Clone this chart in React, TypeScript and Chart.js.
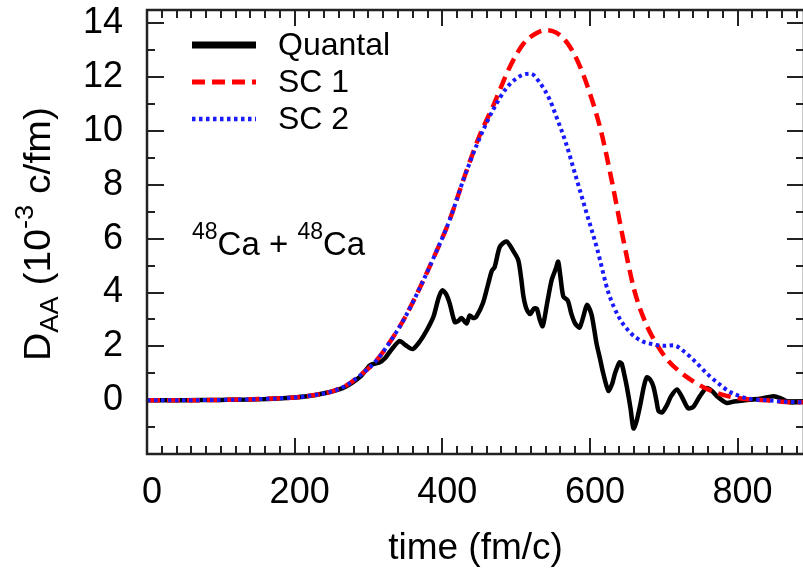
import React, { useEffect, useRef } from 'react';
import { Chart, registerables } from 'chart.js';

Chart.register(...registerables);

// ---------------- data ----------------
const quantalT = [0, 50, 100, 150, 200, 230, 265, 290, 302, 315, 322, 329, 342, 350, 360, 370, 379, 388, 395, 400, 405, 410, 417, 422, 426, 433, 437, 442, 446, 455, 462, 467, 471, 478, 487, 496, 503, 507, 510, 514, 519, 524, 528, 532, 536, 542, 548, 554, 557, 560, 564, 570, 575, 580, 586, 592, 596, 602, 606, 609, 614, 618, 625, 630, 634, 640, 643, 647, 650, 655, 659, 663, 668, 673, 677, 682, 686, 690, 693, 698, 704, 710, 718, 725, 733, 740, 749, 758, 765, 772, 785, 795, 810, 830, 849, 860, 871, 890];
const quantalV = [0, 0, 0.01, 0.03, 0.1, 0.2, 0.45, 0.9, 1.3, 1.4, 1.55, 1.8, 2.2, 2.05, 1.9, 2.2, 2.6, 3.1, 3.8, 4.08, 3.95, 3.6, 2.9, 2.95, 3.05, 2.85, 3.15, 3.05, 3.1, 3.6, 4.3, 4.8, 4.95, 5.7, 5.9, 5.55, 5.2, 4.5, 3.85, 3.4, 3.2, 3.4, 3.4, 3.0, 2.75, 3.6, 4.45, 4.9, 5.15, 4.6, 3.85, 3.7, 3.2, 2.85, 2.7, 3.2, 3.55, 3.2, 2.6, 2.1, 1.5, 1.0, 0.35, 0.6, 1.0, 1.4, 1.36, 0.9, 0.5, -0.3, -1.05, -0.8, -0.2, 0.5, 0.85, 0.75, 0.5, 0.0, -0.4, -0.45, -0.2, 0.15, 0.4, 0.1, -0.3, -0.25, 0.15, 0.45, 0.35, 0.15, -0.1, -0.05, 0.0, 0.05, 0.15, 0.05, -0.08, -0.06];

const sc1T = [0, 50, 100, 150, 200, 225, 250, 270, 290, 310, 330, 350, 370, 390, 410, 430, 450, 470, 490, 510, 525, 540, 555, 570, 585, 600, 615, 630, 645, 660, 675, 690, 705, 720, 740, 760, 780, 800, 820, 840, 860, 890];
const sc1V = [0, 0, 0.01, 0.04, 0.1, 0.18, 0.32, 0.55, 0.95, 1.45, 2.2, 3.1, 4.2, 5.4, 6.7, 8.3, 9.8, 11.0, 12.3, 13.25, 13.6, 13.75, 13.65, 13.25, 12.5, 11.4, 10.0, 8.1, 6.0, 4.1, 2.9, 2.1, 1.5, 1.1, 0.7, 0.4, 0.2, 0.08, 0.02, 0, -0.06, -0.08];

const sc2T = [0, 50, 100, 150, 200, 225, 250, 270, 290, 310, 330, 350, 370, 390, 410, 430, 450, 470, 487, 500, 510, 520, 532, 545, 555, 567, 580, 595, 610, 625, 640, 655, 670, 685, 700, 713, 728, 742, 760, 775, 790, 805, 820, 840, 860, 890];
const sc2V = [0, 0, 0.01, 0.04, 0.1, 0.18, 0.32, 0.55, 0.95, 1.45, 2.2, 3.1, 4.2, 5.4, 6.7, 8.3, 9.7, 10.85, 11.6, 11.95, 12.1, 12.13, 11.8, 11.2, 10.5, 9.6, 8.4, 7.0, 5.6, 4.0, 3.05, 2.5, 2.2, 2.08, 2.02, 2.04, 1.8, 1.45, 0.95, 0.6, 0.3, 0.13, 0.03, 0, -0.05, -0.08];

const seriesLabels = ['Quantal', 'SC 1', 'SC 2'];
const xRange = [0, 890];
const yRange = [-2, 14.5];
const xMajor = 200;
const xMinor = 20;
const yMajor = 2;
const yMinor = 1;

const FONT = '"Liberation Sans", Arial, Helvetica, sans-serif';

const toPoints = (t: number[], v: number[]) => t.map((x, i) => ({ x, y: v[i] }));

type Part = { text: string; size: number; dy: number };

function measureRich(ctx: CanvasRenderingContext2D, parts: Part[]) {
  return parts.map((p) => {
    ctx.font = `${p.size}px ${FONT}`;
    return ctx.measureText(p.text).width;
  });
}

function drawRich(ctx: CanvasRenderingContext2D, parts: Part[], x: number, y: number) {
  const widths = measureRich(ctx, parts);
  let cx = x;
  parts.forEach((p, i) => {
    ctx.font = `${p.size}px ${FONT}`;
    ctx.fillText(p.text, cx, y + p.dy);
    cx += widths[i];
  });
}

const overlayPlugin = {
  id: 'overlayPlugin',
  beforeDatasetsDraw(chart: any) {
    const { ctx, chartArea, scales } = chart;
    const { left, right, top, bottom } = chartArea;
    const xs = scales.x;
    const ys = scales.y;
    ctx.save();
    ctx.strokeStyle = '#222';
    ctx.lineWidth = 2;
    ctx.beginPath();
    for (let v = xRange[0]; v <= xRange[1] + 1e-6; v += xMinor) {
      const px = Math.round(xs.getPixelForValue(v));
      const len = Math.abs(v % xMajor) < 1e-6 ? 16 : 8;
      ctx.moveTo(px, bottom);
      ctx.lineTo(px, bottom - len);
      ctx.moveTo(px, top);
      ctx.lineTo(px, top + len);
    }
    for (let v = yRange[0]; v <= yRange[1] + 1e-6; v += yMinor) {
      const py = Math.round(ys.getPixelForValue(v));
      const len = Math.abs(v % yMajor) < 1e-6 ? 17 : 8;
      ctx.moveTo(left, py);
      ctx.lineTo(left + len, py);
      ctx.moveTo(right, py);
      ctx.lineTo(right - len, py);
    }
    ctx.stroke();
    ctx.restore();
  },
  afterDatasetsDraw(chart: any) {
    const { ctx, chartArea } = chart;
    const { left, right, top, bottom } = chartArea;
    ctx.save();
    // frame
    ctx.strokeStyle = '#222';
    ctx.lineWidth = 2.5;
    ctx.strokeRect(left, top, right - left, bottom - top);

    // legend
    const ds = chart.data.datasets;
    const legendY = [45, 82, 119];
    const legendW = [7, 5, 4.5];
    ds.forEach((d: any, i: number) => {
      ctx.beginPath();
      ctx.strokeStyle = d.borderColor;
      ctx.lineWidth = legendW[i];
      ctx.lineCap = 'butt';
      ctx.setLineDash(d.borderDash || []);
      ctx.moveTo(192, legendY[i]);
      ctx.lineTo(256, legendY[i]);
      ctx.stroke();
      ctx.setLineDash([]);
      ctx.fillStyle = '#000';
      ctx.font = `32px ${FONT}`;
      ctx.textAlign = 'left';
      ctx.textBaseline = 'middle';
      ctx.fillText(d.label, 278, legendY[i] + 1);
    });

    // reaction annotation
    ctx.fillStyle = '#000';
    ctx.textAlign = 'left';
    ctx.textBaseline = 'alphabetic';
    drawRich(ctx, [
      { text: '48', size: 23, dy: -16 },
      { text: 'Ca + ', size: 33, dy: 0 },
      { text: '48', size: 23, dy: -16 },
      { text: 'Ca', size: 33, dy: 0 },
    ], 192, 255);

    // y axis title (rotated)
    const titleParts: Part[] = [
      { text: 'D', size: 36, dy: 0 },
      { text: 'AA', size: 25, dy: 8 },
      { text: ' (10', size: 36, dy: 0 },
      { text: '-3', size: 25, dy: -17 },
      { text: ' c/fm)', size: 36, dy: 0 },
    ];
    const tw = measureRich(ctx, titleParts).reduce((a, b) => a + b, 0);
    const stretch = Math.max(1, 254 / tw);
    ctx.translate(50, 234);
    ctx.rotate(-Math.PI / 2);
    ctx.scale(stretch, 1);
    drawRich(ctx, titleParts, -tw / 2, 0);
    ctx.restore();
  },
};

export default function App() {
  const canvasRef = useRef<HTMLCanvasElement | null>(null);

  useEffect(() => {
    document.body.style.margin = '0';
    const canvas = canvasRef.current;
    if (!canvas) return;
    const chart = new Chart(canvas, {
      type: 'line',
      data: {
        datasets: [
          {
            label: seriesLabels[0],
            data: toPoints(quantalT, quantalV),
            borderColor: '#000000',
            borderWidth: 4.5,
            pointRadius: 0,
            tension: 0.25,
            order: 2,
          },
          {
            label: seriesLabels[1],
            data: toPoints(sc1T, sc1V),
            borderColor: '#ff0000',
            borderWidth: 4.5,
            borderDash: [13, 7],
            pointRadius: 0,
            cubicInterpolationMode: 'monotone',
            order: 1,
          },
          {
            label: seriesLabels[2],
            data: toPoints(sc2T, sc2V),
            borderColor: '#1a1aff',
            borderWidth: 4,
            borderDash: [3.5, 3.5],
            pointRadius: 0,
            cubicInterpolationMode: 'monotone',
            order: 0,
          },
        ],
      },
      options: {
        animation: false,
        responsive: false,
        maintainAspectRatio: false,
        layout: { padding: { top: 10, right: 8, left: 0, bottom: 0 } },
        plugins: {
          legend: { display: false },
          tooltip: { enabled: false },
          title: { display: false },
        },
        scales: {
          x: {
            type: 'linear',
            min: xRange[0],
            max: xRange[1],
            grid: { display: false, drawTicks: false },
            border: { display: false },
            ticks: {
              stepSize: xMajor,
              includeBounds: false,
              padding: 17,
              labelOffset: 5,
              color: '#000',
              font: { family: FONT, size: 36 },
              maxRotation: 0,
            },
            title: {
              display: true,
              text: 'time (fm/c)',
              color: '#000',
              font: { family: FONT, size: 37 },
              padding: { top: 0, bottom: 1 },
            },
            afterFit: (s: any) => {
              s.height = 118;
              s.paddingLeft = 0;
              s.paddingRight = 0;
              s.paddingTop = 0;
              s.paddingBottom = 0;
            },
          },
          y: {
            type: 'linear',
            min: yRange[0],
            max: yRange[1],
            grid: { display: false, drawTicks: false },
            border: { display: false },
            ticks: {
              stepSize: yMajor,
              includeBounds: false,
              padding: 24,
              color: '#000',
              font: { family: FONT, size: 36 },
              callback: (v: any) => (v < 0 ? '' : String(v)),
            },
            afterFit: (s: any) => {
              s.width = 147;
              s.paddingLeft = 0;
              s.paddingRight = 0;
              s.paddingTop = 0;
              s.paddingBottom = 0;
            },
          },
        },
      },
      plugins: [overlayPlugin],
    });
    return () => chart.destroy();
  }, []);

  return (
    <div style={{ width: 803, height: 572, overflow: 'hidden', background: '#fff', position: 'relative' }}>
      <canvas ref={canvasRef} width={812} height={572} style={{ display: 'block', width: 812, height: 572 }} />
    </div>
  );
}
